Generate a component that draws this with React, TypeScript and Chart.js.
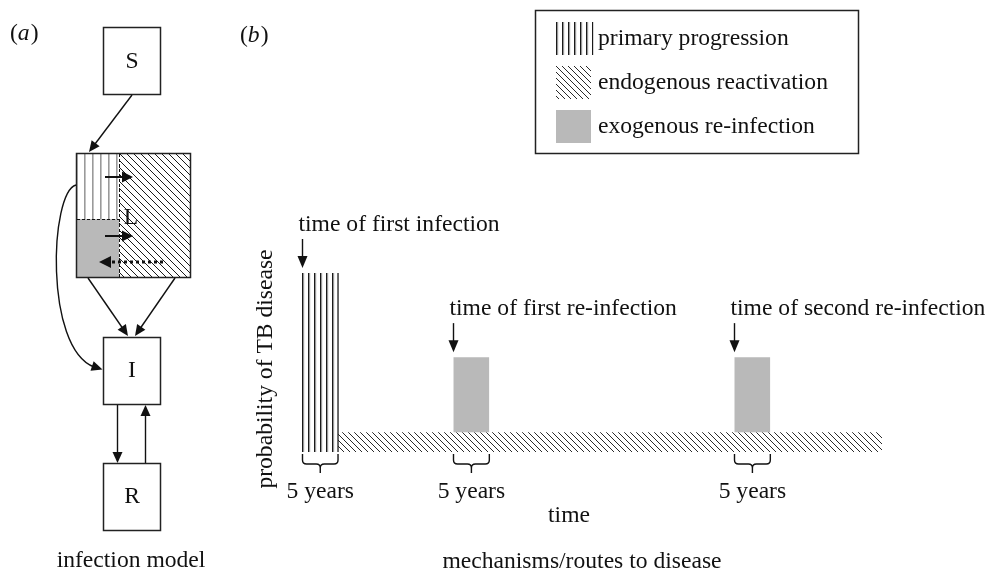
import React, { useEffect, useRef } from "react";
import { Chart, registerables } from "chart.js";
Chart.register(...registerables);

// ---------- data ----------
const SERIES_LABELS = ["primary progression", "endogenous reactivation", "exogenous re-infection"];
const EVENT_LABELS = ["time of first infection", "time of first re-infection", "time of second re-infection"];
const EVENT_TIMES = [0, 21, 60]; // years
const WINDOW_YEARS = 5;
const END_TIME = 80.5;
const PRIMARY_LEVEL = 1.0;
const ENDOGENOUS_LEVEL = 0.11;
const EXOGENOUS_LEVEL = 0.53;
const WINDOW_LABEL = "5 years";
const X_TITLE = "time";
const Y_TITLE = "probability of TB disease";
const PANEL_A_CAPTION = "infection model";
const PANEL_B_CAPTION = "mechanisms/routes to disease";
const COMPARTMENTS = ["S", "L", "I", "R"];

const FONT = '23.6px "Liberation Serif", "Times New Roman", serif';
const FONT_I = 'italic 23.6px "Liberation Serif", "Times New Roman", serif';
const INK = "#111";
const GREY = "#b9b9b9";

// ---------- patterns ----------
function makeVertical(step: number, off: number, color: string, lw: number, soft?: string) {
  const c = document.createElement("canvas");
  c.width = step; c.height = step;
  const g = c.getContext("2d")!;
  g.fillStyle = color;
  g.fillRect(off, 0, lw, step);
  if (soft) { g.fillStyle = soft; g.fillRect(off + lw, 0, 1, step); }
  return g.createPattern(c, "repeat")!;
}
function makeDiagonal(step: number, color: string, lw: number) {
  const c = document.createElement("canvas");
  c.width = step; c.height = step;
  const g = c.getContext("2d")!;
  g.strokeStyle = color; g.lineWidth = lw;
  g.beginPath();
  g.moveTo(-1, -1); g.lineTo(step + 1, step + 1);
  g.moveTo(-1, step - 1); g.lineTo(1, step + 1);
  g.moveTo(step - 1, -1); g.lineTo(step + 1, 1);
  g.stroke();
  return g.createPattern(c, "repeat")!;
}

function rect(x0: number, y0: number, x1: number, y1: number) {
  return [{ x: x0, y: y0 }, { x: x0, y: y1 }, { x: x1, y: y1 }, { x: x1, y: y0 }];
}

// ---------- drawing helpers ----------
function arrow(ctx: CanvasRenderingContext2D, x1: number, y1: number, x2: number, y2: number, o: any = {}) {
  const lw = o.lw ?? 1.5, head = o.head ?? 10, hw = o.hw ?? 4.5;
  const dx = x2 - x1, dy = y2 - y1, len = Math.hypot(dx, dy);
  const ux = dx / len, uy = dy / len;
  const bx = x2 - ux * head, by = y2 - uy * head;
  ctx.save();
  ctx.strokeStyle = INK; ctx.fillStyle = INK; ctx.lineWidth = lw;
  ctx.setLineDash(o.dash || []);
  ctx.beginPath(); ctx.moveTo(x1, y1); ctx.lineTo(bx + ux, by + uy); ctx.stroke();
  ctx.setLineDash([]);
  ctx.beginPath();
  ctx.moveTo(x2, y2);
  ctx.lineTo(bx - uy * hw, by + ux * hw);
  ctx.lineTo(bx + uy * hw, by - ux * hw);
  ctx.closePath(); ctx.fill();
  ctx.restore();
}
function headAt(ctx: CanvasRenderingContext2D, x2: number, y2: number, ux: number, uy: number, head = 10, hw = 4.5) {
  const bx = x2 - ux * head, by = y2 - uy * head;
  ctx.beginPath();
  ctx.moveTo(x2, y2);
  ctx.lineTo(bx - uy * hw, by + ux * hw);
  ctx.lineTo(bx + uy * hw, by - ux * hw);
  ctx.closePath(); ctx.fill();
}
function brace(ctx: CanvasRenderingContext2D, xl: number, xr: number, y0: number) {
  const xm = (xl + xr) / 2;
  ctx.save();
  ctx.strokeStyle = INK; ctx.lineWidth = 1.4;
  ctx.beginPath();
  ctx.moveTo(xl, y0 + 1); ctx.lineTo(xl, y0 + 7);
  ctx.quadraticCurveTo(xl, y0 + 11, xl + 4, y0 + 11);
  ctx.lineTo(xm - 4, y0 + 11);
  ctx.quadraticCurveTo(xm, y0 + 11, xm, y0 + 15);
  ctx.lineTo(xm, y0 + 20);
  ctx.moveTo(xr, y0 + 1); ctx.lineTo(xr, y0 + 7);
  ctx.quadraticCurveTo(xr, y0 + 11, xr - 4, y0 + 11);
  ctx.lineTo(xm + 4, y0 + 11);
  ctx.quadraticCurveTo(xm, y0 + 11, xm, y0 + 15);
  ctx.stroke();
  ctx.restore();
}
function panelTag(ctx: CanvasRenderingContext2D, letter: string, x: number, y: number) {
  ctx.save();
  ctx.fillStyle = INK; ctx.textAlign = "left"; ctx.textBaseline = "alphabetic";
  ctx.font = FONT; ctx.fillText("(", x, y);
  let w = ctx.measureText("(").width;
  ctx.font = FONT_I; ctx.fillText(letter, x + w, y);
  w += ctx.measureText(letter).width + 1;
  ctx.font = FONT; ctx.fillText(")", x + w, y);
  ctx.restore();
}

function drawModel(ctx: CanvasRenderingContext2D, pats: any) {
  ctx.save();
  ctx.strokeStyle = "#222"; ctx.lineWidth = 1.5;
  ctx.fillStyle = INK; ctx.font = FONT; ctx.textAlign = "center"; ctx.textBaseline = "middle";
  // S box
  ctx.strokeRect(103.5, 27.5, 57, 67);
  ctx.fillText(COMPARTMENTS[0], 132, 62);
  arrow(ctx, 132, 95, 89, 152, { lw: 1.4, head: 11, hw: 5 });
  // L box
  ctx.save();
  ctx.translate(76, 153); ctx.fillStyle = pats.modelVert; ctx.fillRect(0, 0, 43, 66); ctx.restore();
  ctx.fillStyle = GREY; ctx.fillRect(76, 219, 43, 58);
  ctx.save();
  ctx.translate(119, 153); ctx.fillStyle = pats.modelDiag; ctx.fillRect(0, 0, 71, 124); ctx.restore();
  ctx.strokeStyle = "#222"; ctx.lineWidth = 1.5;
  ctx.strokeRect(76.5, 153.5, 114, 124);
  ctx.save();
  ctx.setLineDash([3, 2]); ctx.lineWidth = 1; ctx.strokeStyle = INK;
  ctx.beginPath(); ctx.moveTo(119.5, 154); ctx.lineTo(119.5, 277);
  ctx.moveTo(77, 219.5); ctx.lineTo(119, 219.5); ctx.stroke();
  ctx.restore();
  arrow(ctx, 105, 177, 133, 177, { lw: 2, head: 11, hw: 5.5 });
  arrow(ctx, 105, 236, 133, 236, { lw: 2, head: 11, hw: 5.5 });
  arrow(ctx, 163, 262, 99, 262, { lw: 3, head: 12, hw: 6, dash: [3, 3] });
  ctx.fillStyle = INK;
  ctx.fillText(COMPARTMENTS[1], 131, 218);
  // L -> I straight arrows
  arrow(ctx, 88, 278, 128, 336, { lw: 1.4, head: 11, hw: 5 });
  arrow(ctx, 175, 278, 135, 336, { lw: 1.4, head: 11, hw: 5 });
  // curved arrow L -> I
  ctx.save();
  ctx.strokeStyle = INK; ctx.fillStyle = INK; ctx.lineWidth = 1.4;
  ctx.beginPath(); ctx.moveTo(76, 185);
  ctx.bezierCurveTo(50, 192, 44, 348, 94, 367); ctx.stroke();
  const ux = 102 - 90, uy = 370 - 366, l = Math.hypot(ux, uy);
  headAt(ctx, 102.5, 369.5, ux / l, uy / l, 11, 5);
  ctx.restore();
  // I box
  ctx.strokeRect(103.5, 337.5, 57, 67);
  ctx.fillText(COMPARTMENTS[2], 132, 371);
  arrow(ctx, 117.5, 405, 117.5, 463, { lw: 1.4, head: 11, hw: 5 });
  arrow(ctx, 145.5, 463, 145.5, 405, { lw: 1.4, head: 11, hw: 5 });
  // R box
  ctx.strokeRect(103.5, 463.5, 57, 67);
  ctx.fillText(COMPARTMENTS[3], 132, 497);
  ctx.textBaseline = "alphabetic";
  ctx.fillText(PANEL_A_CAPTION, 131, 567);
  ctx.restore();
}

const annotate = {
  id: "annotate",
  afterDraw(chart: any) {
    const ctx: CanvasRenderingContext2D = chart.ctx;
    const xs = chart.scales.x, ys = chart.scales.y;
    const ca = chart.chartArea;
    const pats = chart.options.plugins.annotate.patterns;
    ctx.save();
    ctx.fillStyle = INK; ctx.font = FONT;

    // panel tags
    panelTag(ctx, "a", 10, 40);
    panelTag(ctx, "b", 240, 42);

    // event arrows + labels
    EVENT_TIMES.forEach((t, i) => {
      const x = Math.round(xs.getPixelForValue(t)) + 0.5;
      const top = ys.getPixelForValue(i === 0 ? PRIMARY_LEVEL : EXOGENOUS_LEVEL);
      arrow(ctx, x, top - 34, x, top - 5, { lw: 1.4, head: 12, hw: 5 });
      ctx.fillStyle = INK; ctx.textAlign = "left"; ctx.textBaseline = "alphabetic";
      ctx.fillText(EVENT_LABELS[i], x - 4, top - 42);
      const xr = xs.getPixelForValue(t + WINDOW_YEARS);
      brace(ctx, x, xr, ca.bottom + 1);
      ctx.textAlign = "center";
      ctx.fillText(WINDOW_LABEL, (x + xr) / 2, 498);
    });

    // axis titles
    ctx.textAlign = "center"; ctx.textBaseline = "alphabetic";
    ctx.fillText(X_TITLE, 569, 522);
    ctx.fillText(PANEL_B_CAPTION, 582, 568);
    ctx.save();
    ctx.translate(272, 369); ctx.rotate(-Math.PI / 2);
    ctx.fillText(Y_TITLE, 0, 0);
    ctx.restore();

    // legend
    ctx.strokeStyle = "#222"; ctx.lineWidth = 1.5;
    ctx.strokeRect(535.5, 10.5, 323, 143);
    const items: any[] = [];
    chart.data.datasets.forEach((d: any) => {
      if (!items.find((it) => it.label === d.label)) items.push(d);
    });
    SERIES_LABELS.forEach((lab, k) => {
      const d = items.find((it) => it.label === lab);
      const y = 22 + k * 44;
      ctx.save();
      if (k === 0) {
        ctx.translate(554, y);
        ctx.fillStyle = d.backgroundColor;
        ctx.fillRect(2, 0, 37.4, 33);
      } else {
        ctx.translate(556, y);
        ctx.fillStyle = d.backgroundColor;
        ctx.fillRect(0, 0, 35, 33);
      }
      ctx.restore();
      ctx.fillStyle = INK; ctx.textAlign = "left"; ctx.textBaseline = "alphabetic";
      ctx.fillText(lab, 598, y + 23);
    });

    drawModel(ctx, pats);
    ctx.restore();
  },
};

export default function App() {
  const ref = useRef<HTMLCanvasElement>(null);
  useEffect(() => {
    const vert = makeVertical(6, 2, "#1a1a1a", 1.3, "rgba(0,0,0,0.25)");
    const diag = makeDiagonal(6, "#2a2a2a", 1);
    const patterns = {
      modelVert: makeVertical(8, 0, "#9a9a9a", 1.6),
      modelDiag: makeDiagonal(7, "#1a1a1a", 1),
    };
    const base = { borderWidth: 0, borderColor: "rgba(0,0,0,0)", pointRadius: 0, pointHoverRadius: 0, tension: 0 };
    const t0 = EVENT_TIMES[0];
    const exo = EVENT_TIMES.slice(1).map((t) => ({
      ...base,
      label: SERIES_LABELS[2],
      data: rect(t, ENDOGENOUS_LEVEL, t + WINDOW_YEARS, EXOGENOUS_LEVEL),
      backgroundColor: GREY,
      fill: { value: ENDOGENOUS_LEVEL },
    }));
    const datasets = [
      ...exo,
      {
        ...base,
        label: SERIES_LABELS[0],
        data: rect(t0, 0, t0 + WINDOW_YEARS, PRIMARY_LEVEL),
        backgroundColor: vert,
        borderColor: "#1a1a1a",
        borderWidth: 1.3,
        segment: { borderColor: (c: any) => (c.p0DataIndex === 1 ? "rgba(0,0,0,0)" : "#1a1a1a") },
        fill: { value: 0 },
      },
      {
        ...base,
        label: SERIES_LABELS[1],
        data: rect(t0 + WINDOW_YEARS, 0, END_TIME, ENDOGENOUS_LEVEL),
        backgroundColor: diag,
        fill: { value: 0 },
      },
    ];
    const chart = new Chart(ref.current!, {
      type: "line",
      data: { datasets: datasets as any },
      options: {
        responsive: false,
        animation: false,
        events: [],
        layout: { padding: { left: 302, right: 104, top: 273, bottom: 121 } },
        scales: {
          x: { type: "linear", min: t0, max: END_TIME, display: false },
          y: { type: "linear", min: 0, max: PRIMARY_LEVEL, display: false },
        },
        plugins: {
          legend: { display: false },
          tooltip: { enabled: false },
          annotate: { patterns },
        } as any,
      },
      plugins: [annotate],
    });
    return () => chart.destroy();
  }, []);
  return (
    <div style={{ position: "fixed", left: 0, top: 0, width: 986, height: 573, background: "#fff" }}>
      <canvas ref={ref} width={986} height={573} style={{ display: "block" }} />
    </div>
  );
}
